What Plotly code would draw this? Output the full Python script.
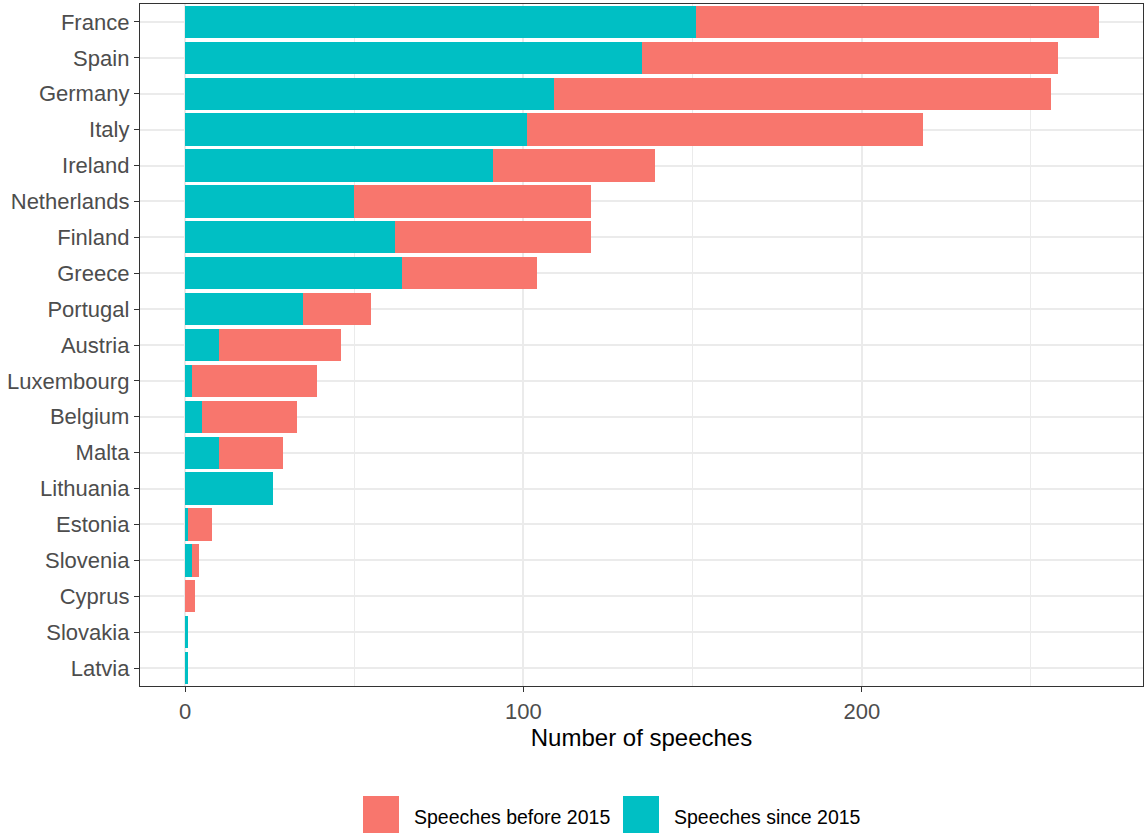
import plotly.graph_objects as go

countries = ["France", "Spain", "Germany", "Italy", "Ireland", "Netherlands",
             "Finland", "Greece", "Portugal", "Austria", "Luxembourg", "Belgium",
             "Malta", "Lithuania", "Estonia", "Slovenia", "Cyprus", "Slovakia", "Latvia"]
since_2015 = [151, 135, 109, 101, 91, 50, 62, 64, 35, 10, 2, 5, 10, 26, 1, 2, 0, 1, 1]
before_2015 = [119, 123, 147, 117, 48, 70, 58, 40, 20, 36, 37, 28, 19, 0, 7, 2, 3, 0, 0]

RED = "#F8766D"
TEAL = "#00BFC4"
W, H = 1145, 833
L, R, T, B = 140, 2, 4, 147

fig = go.Figure()
fig.add_trace(go.Bar(y=countries, x=since_2015, orientation="h", name="Speeches since 2015",
                     marker=dict(color=TEAL, line=dict(width=0)), width=0.9))
fig.add_trace(go.Bar(y=countries, x=before_2015, orientation="h", name="Speeches before 2015",
                     marker=dict(color=RED, line=dict(width=0)), width=0.9))

fig.update_layout(
    width=W, height=H, barmode="stack", showlegend=False,
    margin=dict(l=L, r=R, t=T, b=B, autoexpand=False),
    plot_bgcolor="white", paper_bgcolor="white",
    font=dict(family="Liberation Sans, Arial, sans-serif"),
)
fig.update_xaxes(
    range=[-13.3, 283.1], tick0=0, dtick=100, showgrid=True, gridcolor="#EBEBEB", gridwidth=1.5,
    minor=dict(dtick=50, showgrid=True, gridcolor="#EBEBEB", gridwidth=0.9),
    zeroline=False, showline=True, linecolor="#333333", linewidth=1.4, mirror=True,
    ticks="outside", ticklen=5, tickcolor="#333333", tickwidth=1.2,
    tickfont=dict(size=22, color="#4D4D4D"), automargin=False,
    title=dict(text="Number of speeches", font=dict(size=24, color="black"), standoff=6),
)
fig.update_yaxes(
    categoryorder="array", categoryarray=countries, autorange="reversed",
    range=[18.6, -0.6], showgrid=True, gridcolor="#EBEBEB", gridwidth=1.5,
    showline=True, linecolor="#333333", linewidth=1.4, mirror=True,
    ticks="outside", ticklen=5, tickcolor="#333333", tickwidth=1.2,
    tickfont=dict(size=22, color="#4D4D4D"), automargin=False,
)

# legend drawn by hand to get ggplot-style large keys
pw, ph = W - L - R, H - T - B
def px(x): return (x - L) / pw
def py(y): return (H - B - y) / ph

legend_items = [("Speeches before 2015", RED, 363, 412), ("Speeches since 2015", TEAL, 623, 672)]
for label, col, kx, tx in legend_items:
    fig.add_shape(type="rect", xref="paper", yref="paper", x0=px(kx), x1=px(kx + 36),
                  y0=py(796), y1=py(834), fillcolor=col, line=dict(width=0), layer="above")
    fig.add_annotation(text=label, xref="paper", yref="paper", x=px(tx), y=py(817),
                       xanchor="left", yanchor="middle", showarrow=False,
                       font=dict(size=19.5, color="black"))

fig.write_html("out.html", config={"displayModeBar": False},
               post_script="document.body.style.margin='0px';")
